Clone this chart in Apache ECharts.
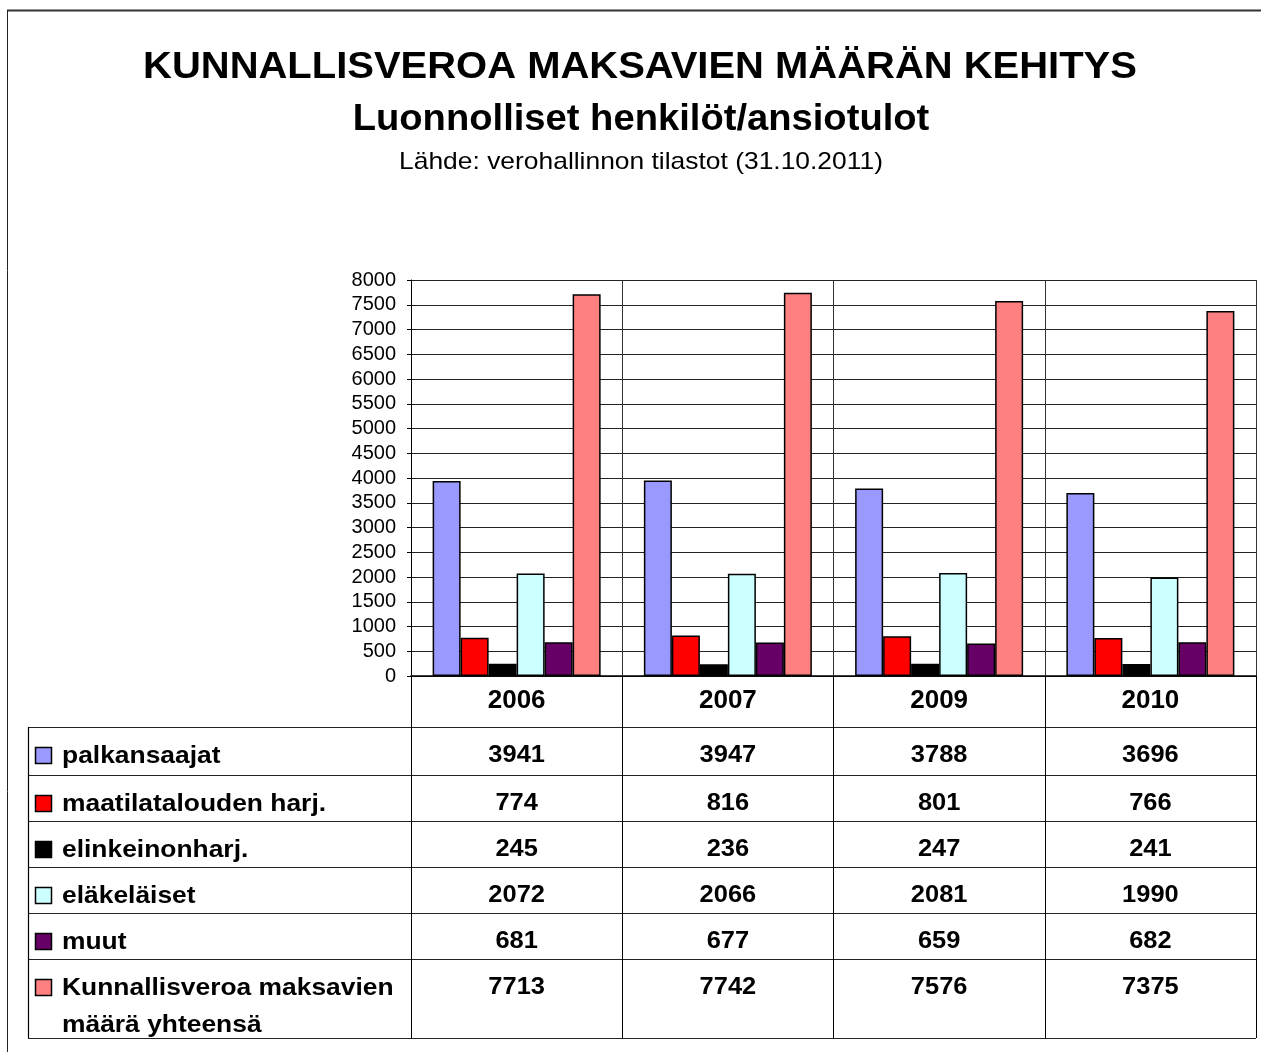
<!DOCTYPE html>
<html>
<head>
<meta charset="utf-8">
<script src="https://cdn.jsdelivr.net/npm/echarts@6/dist/echarts.min.js"></script>
<style>
  html, body { margin: 0; padding: 0; background: #fff; }
  #chart { width: 1261px; height: 1052px; }
</style>
</head>
<body>
<div id="chart"></div>
<script>
// data
const years = ['2006', '2007', '2009', '2010']
const seriesNames = [
  'palkansaajat',
  'maatilatalouden harj.',
  'elinkeinonharj.',
  'eläkeläiset',
  'muut',
  'Kunnallisveroa maksavien\nmäärä yhteensä'
]
const palkansaajat = [3941, 3947, 3788, 3696]
const maatilatalous = [774, 816, 801, 766]
const elinkeino = [245, 236, 247, 241]
const elakelaiset = [2072, 2066, 2081, 1990]
const muut = [681, 677, 659, 682]
const yhteensa = [7713, 7742, 7576, 7375]
const seriesData = [palkansaajat, maatilatalous, elinkeino, elakelaiset, muut, yhteensa]

const colors = ['#9999ff', '#ff0000', '#000000', '#ccffff', '#660066', '#ff8080']
const font = '"Liberation Sans", Arial, sans-serif'

// layout
const plotLeft = 411
const plotRight = 1256
const plotTop = 280
const plotBottom = 676
const tableLeft = 28
const rowLines = [727, 775, 821, 867, 913, 959, 1038]

const chart = echarts.init(document.getElementById('chart'))

chart.setOption({
  animation: false,
  backgroundColor: '#fff',
  color: colors,
  grid: {
    left: plotLeft,
    right: 1261 - plotRight,
    top: plotTop,
    bottom: 1052 - plotBottom,
    outerBoundsMode: 'none',
    containLabel: false
  },
  xAxis: {
    type: 'category',
    data: years,
    axisLine: { show: true, lineStyle: { color: '#000', width: 1.5 } },
    axisTick: {
      show: true,
      alignWithLabel: false,
      length: rowLines[rowLines.length - 1] - plotBottom, // extended into the table
      lineStyle: { color: '#000', width: 1 }
    },
    axisLabel: {
      margin: 12,
      color: '#000',
      fontFamily: font,
      fontWeight: 'bold',
      fontSize: 26
    },
    splitLine: { show: true, lineStyle: { color: '#333', width: 1 } }
  },
  yAxis: {
    type: 'value',
    min: 0,
    max: 8000,
    interval: 500,
    axisLine: { show: true, lineStyle: { color: '#000', width: 1 } },
    axisTick: { show: true, length: 4, lineStyle: { color: '#000' } },
    axisLabel: {
      margin: 15,
      color: '#000',
      fontFamily: font,
      fontSize: 20,
      formatter: (v) => String(v)
    },
    splitLine: { show: true, lineStyle: { color: '#222', width: 1 } }
  },
  series: seriesData.map((d, i) => ({
    name: seriesNames[i],
    type: 'bar',
    barWidth: 28,
    barGap: '0%',
    itemStyle: { color: colors[i], borderColor: '#000', borderWidth: 1.5 },
    data: d
  }))
})

// table under the plot, labels and numbers come from the arrays above
const g = []
// outer frame
g.push({ type: 'line', shape: { x1: 7, y1: 10.5, x2: 1261, y2: 10.5 }, style: { stroke: '#333', lineWidth: 2 } })
g.push({ type: 'line', shape: { x1: 7.5, y1: 10, x2: 7.5, y2: 1052 }, style: { stroke: '#222', lineWidth: 1 } })

// titles
g.push({
  type: 'text', x: 640, y: 68, scaleX: 1.08,
  style: { text: 'KUNNALLISVEROA MAKSAVIEN MÄÄRÄN KEHITYS', x: 0, y: 0, align: 'center', verticalAlign: 'middle',
    font: 'bold 37px ' + font, fill: '#000' }
})
g.push({
  type: 'text', x: 641, y: 120, scaleX: 1.06,
  style: { text: 'Luonnolliset henkilöt/ansiotulot', x: 0, y: 0, align: 'center', verticalAlign: 'middle',
    font: 'bold 36px ' + font, fill: '#000' }
})
g.push({
  type: 'text', x: 641, y: 162, scaleX: 1.1,
  style: { text: 'Lähde: verohallinnon tilastot (31.10.2011)', x: 0, y: 0, align: 'center', verticalAlign: 'middle',
    font: '24px ' + font, fill: '#000' }
})

// table grid
rowLines.forEach((y) => {
  g.push({ type: 'line', shape: { x1: tableLeft, y1: y + 0.5, x2: plotRight, y2: y + 0.5 }, style: { stroke: '#222', lineWidth: 1.2 } })
})
g.push({ type: 'line', shape: { x1: tableLeft + 0.5, y1: rowLines[0], x2: tableLeft + 0.5, y2: rowLines[rowLines.length - 1] }, style: { stroke: '#000', lineWidth: 1.2 } })

seriesNames.forEach((name, i) => {
  const top = rowLines[i]
  g.push({ type: 'rect', shape: { x: 35.5, y: top + 20.5, width: 16, height: 16 }, style: { fill: colors[i], stroke: '#000', lineWidth: 1.5 } })
  name.split('\n').forEach((line, k) => {
    g.push({
      type: 'text', x: 62, y: top + 29 + k * 37, scaleX: 1.1,
      style: { text: line, x: 0, y: 0, align: 'left', verticalAlign: 'middle', font: 'bold 24px ' + font, fill: '#000' }
    })
  })
  seriesData[i].forEach((v, j) => {
    const cx = chart.convertToPixel({ xAxisIndex: 0 }, years[j])
    g.push({
      type: 'text', x: cx, y: top + 28, scaleX: 1.06,
      style: { text: String(v), x: 0, y: 0, align: 'center', verticalAlign: 'middle', font: 'bold 24px ' + font, fill: '#000' }
    })
  })
})

chart.setOption({ graphic: { elements: g } })
</script>
</body>
</html>
